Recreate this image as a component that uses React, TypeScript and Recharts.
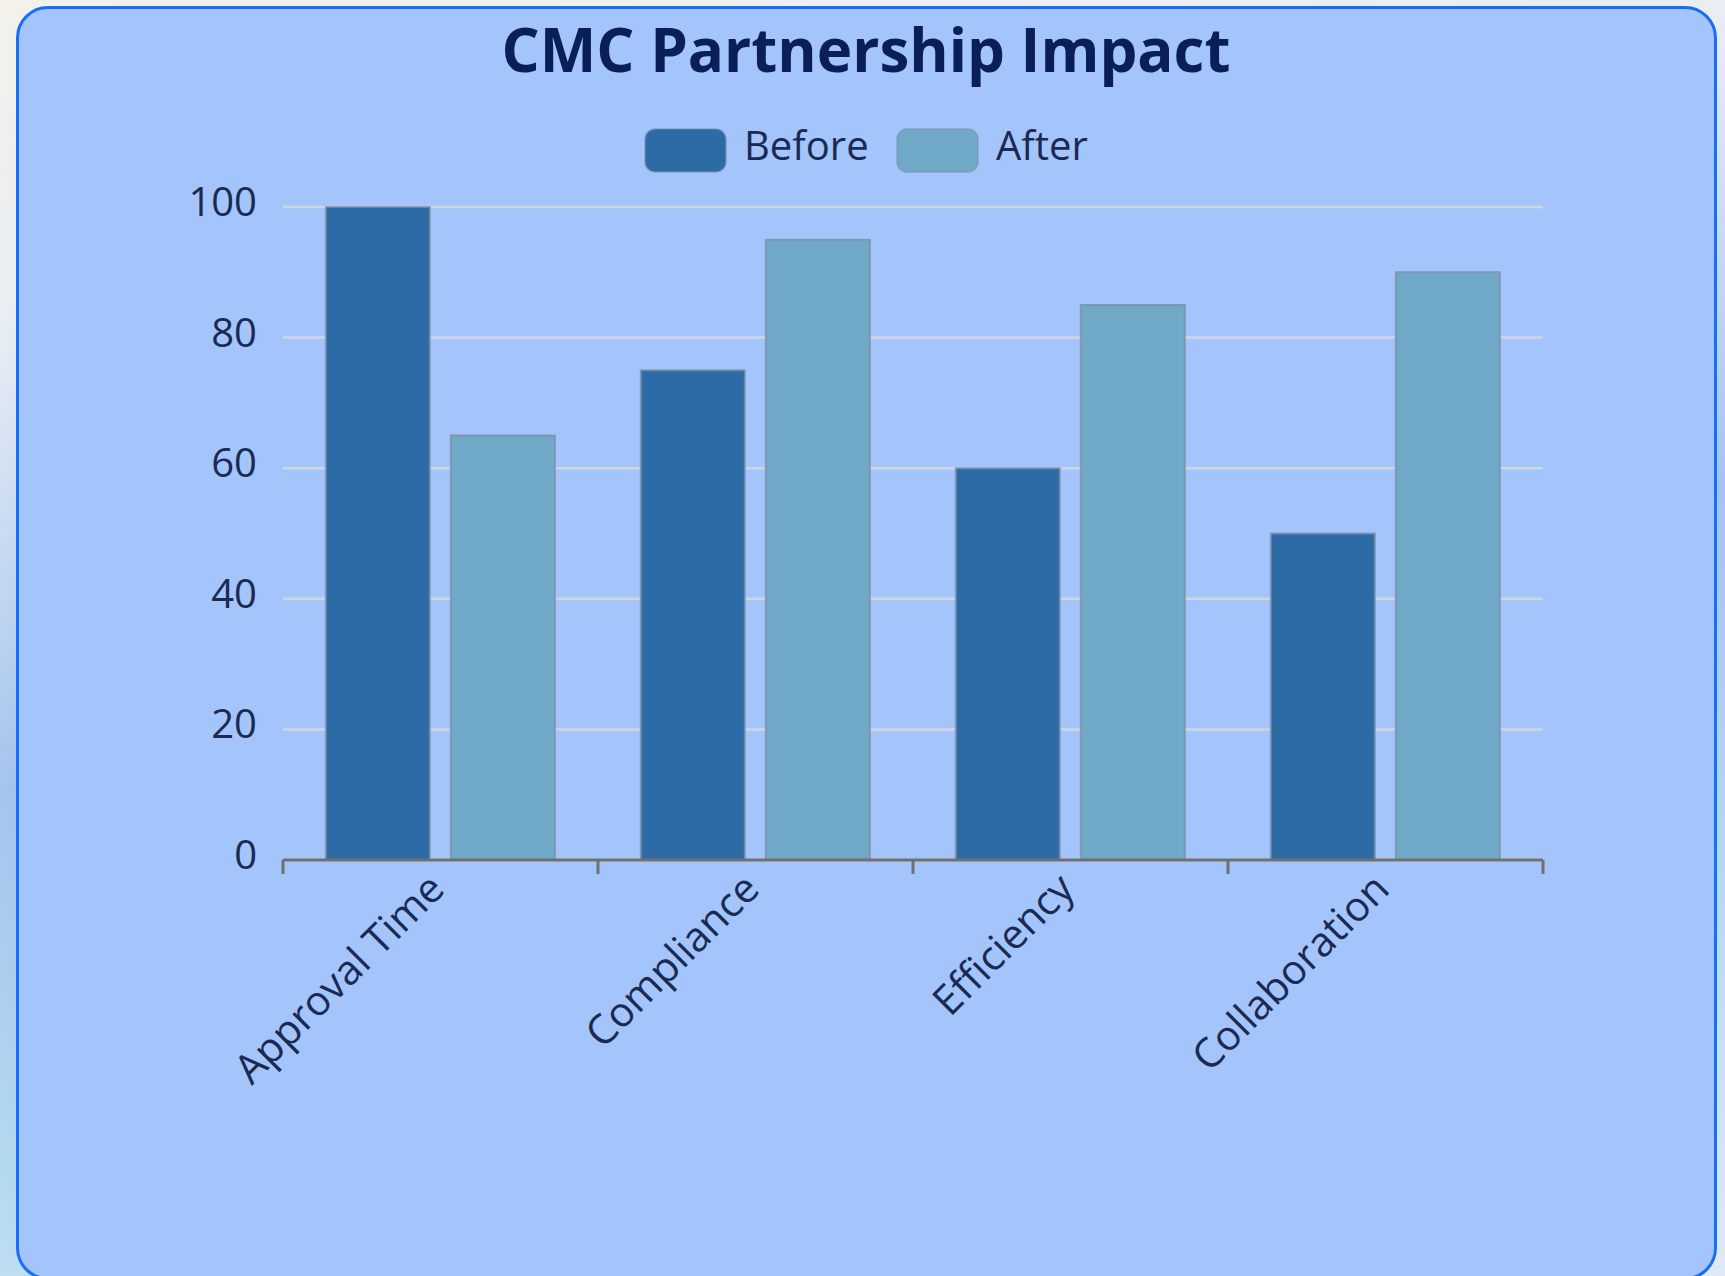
import React from 'react';
import { BarChart, Bar, XAxis, YAxis, CartesianGrid } from 'recharts';

const categories = ['Approval Time', 'Compliance', 'Efficiency', 'Collaboration'];
const beforeValues = [100, 75, 60, 50];
const afterValues = [65, 95, 85, 90];
const yTicks = [0, 20, 40, 60, 80, 100];
const seriesNames = ['Before', 'After'];
const seriesColors = ['#2c6ba6', '#70a9c7'];
const titleText = 'CMC Partnership Impact';

const data = categories.map((c, i) => ({
  category: c,
  [seriesNames[0]]: beforeValues[i],
  [seriesNames[1]]: afterValues[i],
}));

const FONT = '"Segoe UI", "Open Sans", "Noto Sans", sans-serif';
const TEXT = '#1a2a52';
const AXIS = '#707070';

const YTick = (props: any) => {
  const { x, y, payload } = props;
  return (
    <text x={x} y={y - 5} textAnchor="end" dy="0.35em" fontSize={40} fontFamily={FONT} fill={TEXT}>
      {payload.value}
    </text>
  );
};

const XTick = (props: any) => {
  const { x, y, payload, index, visibleTicksCount, width } = props;
  const half = payload && payload.offset ? payload.offset : width / visibleTicksCount / 2;
  const axisY = y - 8;
  const lx = x - 4;
  const ly = axisY + 21;
  return (
    <g>
      <line x1={x - half} x2={x - half} y1={axisY} y2={axisY + 14} stroke={AXIS} strokeWidth={3} />
      {index === visibleTicksCount - 1 && (
        <line x1={x + half} x2={x + half} y1={axisY} y2={axisY + 14} stroke={AXIS} strokeWidth={3} />
      )}
      <text
        x={lx}
        y={ly}
        textAnchor="end"
        dy="0.35em"
        transform={`rotate(-45 ${lx} ${ly})`}
        fontSize={41}
        fontFamily={FONT}
        fill={TEXT}
      >
        {payload.value}
      </text>
    </g>
  );
};

export default function App() {
  return (
    <div
      style={{
        position: 'absolute',
        left: 0,
        top: 0,
        width: 1725,
        height: 1276,
        overflow: 'hidden',
        background: 'linear-gradient(170deg, #f3f1ea 0%, #e9eef4 20%, #a4c4ee 50%, #b4daf0 75%, #dfeaf4 100%)',
      }}
    >
      <div
        style={{
          position: 'absolute',
          left: 16,
          top: 6,
          width: 1695,
          height: 1268,
          border: '3px solid #1a6ef5',
          borderRadius: 32,
          background: '#a3c5fc',
        }}
      />
      <div style={{ position: 'absolute', left: 0, top: 0 }}>
        <BarChart
          width={1725}
          height={1276}
          data={data}
          margin={{ top: 207, right: 182, bottom: 266, left: 203 }}
          barCategoryGap="13.6%"
          barGap={21}
        >
          <CartesianGrid vertical={false} stroke="#cfd5df" strokeWidth={2.5} />
          <YAxis
            width={80}
            domain={[0, 100]}
            ticks={yTicks}
            axisLine={false}
            tickLine={false}
            tickSize={0}
            tickMargin={26}
            tick={<YTick />}
            interval={0}
          />
          <XAxis
            dataKey="category"
            height={150}
            axisLine={{ stroke: AXIS, strokeWidth: 3 }}
            tickLine={false}
            tickSize={0}
            tickMargin={8}
            tick={<XTick />}
            interval={0}
          />
          {seriesNames.map((s, i) => (
            <Bar
              key={s}
              dataKey={s}
              fill={seriesColors[i]}
              stroke="#7d8ea6"
              strokeOpacity={0.8}
              strokeWidth={2}
              isAnimationActive={false}
            />
          ))}
        </BarChart>
      </div>
      <svg
        width={1725}
        height={1276}
        style={{ position: 'absolute', left: 0, top: 0, pointerEvents: 'none' }}
      >
        <text x={866} y={72} textAnchor="middle" fontSize={60} fontWeight={700} fontFamily={FONT} fill="#0a1f57">
          {titleText}
        </text>
        {seriesNames.map((s, i) => {
          const bx = i === 0 ? 645 : 897;
          return (
            <g key={s}>
              <rect x={bx} y={129} width={81} height={43} rx={10} ry={10} fill={seriesColors[i]} stroke="#7d8ea6" strokeOpacity={0.6} strokeWidth={1.5} />
              <text x={bx + 99} y={160} fontSize={40} fontFamily={FONT} fill={TEXT}>
                {s}
              </text>
            </g>
          );
        })}
      </svg>
    </div>
  );
}
